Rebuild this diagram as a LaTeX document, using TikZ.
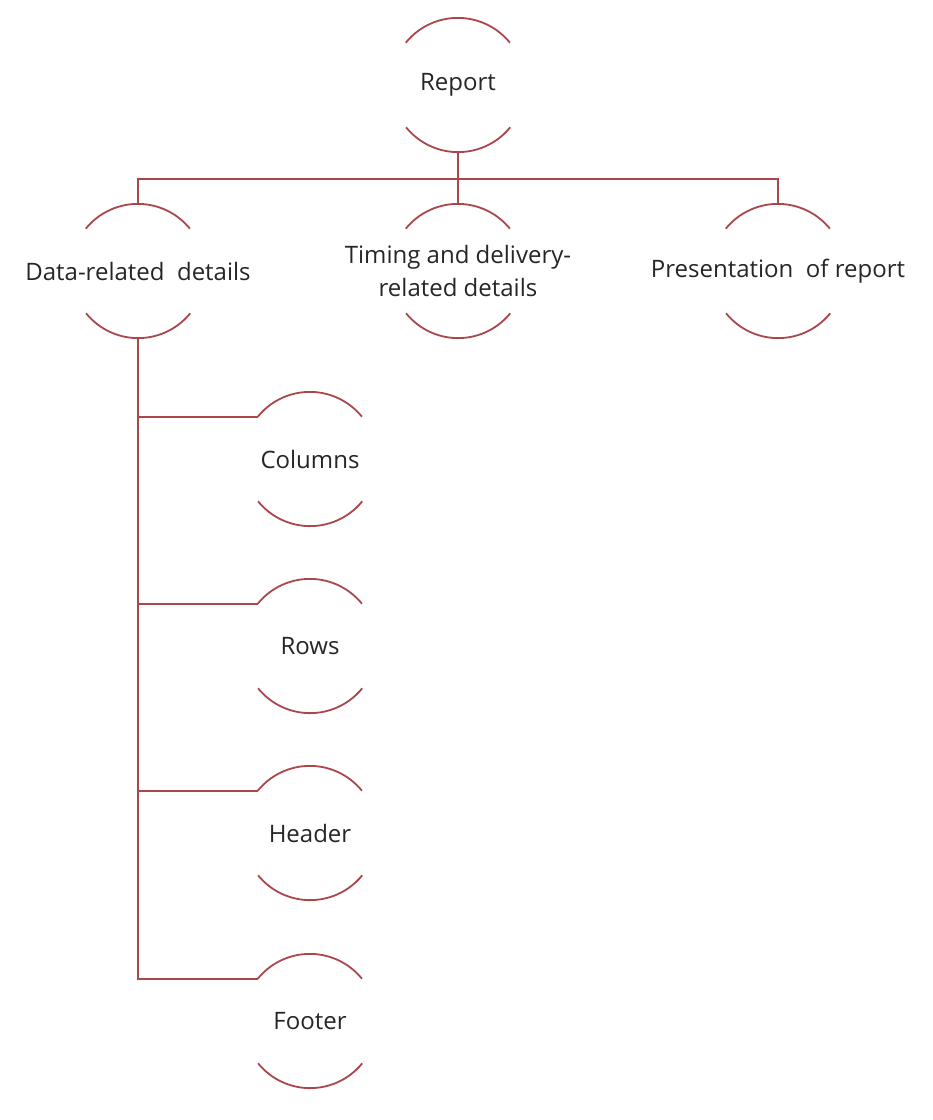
\documentclass[tikz,border=0pt]{standalone}
\usepackage{fontspec}
\setmainfont{Open Sans}
\definecolor{arcred}{RGB}{170,70,76}
\definecolor{txt}{RGB}{38,38,38}
\tikzset{
  leaf/.style={circle, minimum size=134pt, inner sep=0pt},
  arcline/.style={draw=arcred, line width=1.8pt},
  link/.style={draw=arcred, line width=1.8pt},
  lbl/.style={font=\fontsize{24}{33}\selectfont, text=txt, align=center}
}

\begin{document}
\begin{tikzpicture}[x=1pt, y=1pt]
    \useasboundingbox (0,0) rectangle (933,-1120);
    % top level
    \node[leaf, label={[lbl]center:Report}] (report) at (458,-85) {};
    \node[leaf, label={[lbl]center:Data-related\ \ details}] (data) at (138,-271) {};
    \node[leaf, label={[lbl]center:{Timing and delivery-\\related details}}] (timing) at (458,-271) {};
    \node[leaf, label={[lbl]center:Presentation\ \ of report}] (present) at (778,-271) {};
    % children of data
    \node[leaf, label={[lbl]center:Columns}] (columns) at (310,-459) {};
    \node[leaf, label={[lbl]center:Rows}] (rows) at (310,-646) {};
    \node[leaf, label={[lbl]center:Header}] (header) at (310,-833) {};
    \node[leaf, label={[lbl]center:Footer}] (footer) at (310,-1021) {};
    \coordinate (bus) at (458,-179);

    \draw[arcline] (report.141) arc[start angle=141, end angle=39, radius=67pt];
    \draw[arcline] (report.-39) arc[start angle=-39, end angle=-141, radius=67pt];
    \draw[arcline] (data.141) arc[start angle=141, end angle=39, radius=67pt];
    \draw[arcline] (data.-39) arc[start angle=-39, end angle=-141, radius=67pt];
    \draw[arcline] (timing.141) arc[start angle=141, end angle=39, radius=67pt];
    \draw[arcline] (timing.-39) arc[start angle=-39, end angle=-141, radius=67pt];
    \draw[arcline] (present.141) arc[start angle=141, end angle=39, radius=67pt];
    \draw[arcline] (present.-39) arc[start angle=-39, end angle=-141, radius=67pt];
    \draw[arcline] (columns.141) arc[start angle=141, end angle=39, radius=67pt];
    \draw[arcline] (columns.-39) arc[start angle=-39, end angle=-141, radius=67pt];
    \draw[arcline] (rows.141) arc[start angle=141, end angle=39, radius=67pt];
    \draw[arcline] (rows.-39) arc[start angle=-39, end angle=-141, radius=67pt];
    \draw[arcline] (header.141) arc[start angle=141, end angle=39, radius=67pt];
    \draw[arcline] (header.-39) arc[start angle=-39, end angle=-141, radius=67pt];
    \draw[arcline] (footer.141) arc[start angle=141, end angle=39, radius=67pt];
    \draw[arcline] (footer.-39) arc[start angle=-39, end angle=-141, radius=67pt];

    % connectors
    \draw[link] (report.south) -- (timing.north);
    \draw[link] (data.north) |- (bus) -| (present.north);
    \draw[link] (data.south) |- (columns.141);
    \draw[link] (data.south) |- (rows.141);
    \draw[link] (data.south) |- (header.141);
    \draw[link] (data.south) |- (footer.141);
  \end{tikzpicture}
\end{document}
